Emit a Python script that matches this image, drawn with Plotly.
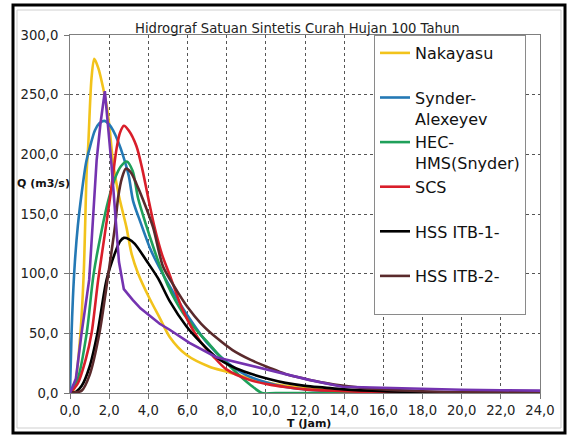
import plotly.graph_objects as go

# ---------------- data ----------------
TITLE = "Hidrograf Satuan Sintetis Curah Hujan 100 Tahun"
X_TITLE = "T (Jam)"
Y_TITLE = "Q (m3/s)"

x_tickvals = [0, 2, 4, 6, 8, 10, 12, 14, 16, 18, 20, 22, 24]
x_ticktext = ["0,0", "2,0", "4,0", "6,0", "8,0", "10,0", "12,0", "14,0",
              "16,0", "18,0", "20,0", "22,0", "24,0"]
y_tickvals = [0, 50, 100, 150, 200, 250, 300]
y_ticktext = ["0,0", "50,0", "100,0", "150,0", "200,0", "250,0", "300,0"]

nakayasu_t = [0, 0.2, 0.5, 0.7, 0.85, 0.93, 1.1, 1.24, 1.45, 1.7, 1.9, 2.04, 2.2,
              2.5, 2.88, 3.14, 3.48, 4.07, 4.58, 5.09, 5.94, 7.12, 7.97, 9.0, 10.0,
              11.0, 12.0, 14.0, 16.0, 20.0, 24.0]
nakayasu_q = [0, 3, 43, 100, 185, 207, 264, 280, 272, 255, 238, 219, 193,
              165, 139, 117, 100, 79, 63, 47, 32, 22, 18, 13, 9,
              6, 4, 2, 1, 0.3, 0.1]

snyder_t = [0, 0.08, 0.15, 0.25, 0.4, 0.6, 0.82, 1.0, 1.27, 1.5, 1.75, 2.0, 2.2,
            2.45, 2.71, 3.0, 3.22, 3.6, 4.07, 4.41, 5.0, 5.5, 6.0, 7.0, 8.0, 9.0,
            10.0, 11.0, 12.0, 14.0, 16.0, 20.0, 24.0]
snyder_q = [0, 50, 80, 110, 140, 168, 193, 205, 220, 226, 228, 225, 220,
            211, 199, 182, 161, 143, 122, 110, 92, 78, 65, 42, 26, 15,
            9, 5, 3, 1, 0.3, 0, 0]

hec_t = [0, 0.4, 0.85, 1.2, 1.6, 1.95, 2.3, 2.6, 2.9, 3.2, 3.48, 3.9, 4.24, 4.58,
         5.0, 5.4, 5.77, 6.0, 6.6, 7.0, 7.7, 8.5, 9.2, 9.8, 10.5, 24.0]
hec_q = [0, 12, 50, 99, 135, 161, 180, 190, 194, 186, 163, 140, 123, 107,
         90, 77, 67, 62, 50, 43, 30, 17, 7, 0, 0, 0]

scs_t = [0, 0.4, 0.8, 1.1, 1.44, 1.75, 2.04, 2.38, 2.55, 2.75, 3.0, 3.39, 3.7, 4.0,
         4.33, 4.7, 5.09, 5.77, 6.62, 7.3, 7.97, 9.16, 10.2, 11.0, 12.0, 14.0,
         16.0, 20.0, 24.0]
scs_q = [0, 8, 28, 50, 95, 130, 163, 205, 218, 224, 220, 207, 187, 163,
         138, 116, 99, 69, 44, 31, 20, 11, 7, 5, 3, 1.5,
         0.5, 0.1, 0]

itb1_t = [0, 0.3, 0.6, 1.0, 1.4, 1.87, 2.29, 2.55, 2.75, 3.0, 3.31, 3.9, 4.5, 5.09,
          5.94, 6.7, 7.47, 8.3, 9.16, 10.2, 11.0, 12.0, 13.0, 14.0, 16.0, 18.0,
          20.0, 24.0]
itb1_q = [0, 1, 6, 22, 50, 95, 117, 127, 130, 129, 125, 111, 96, 77,
          56, 42, 30, 22, 16.5, 11.5, 8.5, 6, 4.5, 3, 1.5, 0.8,
          0.5, 0.2]

itb2_t = [0, 0.6, 1.0, 1.5, 1.95, 2.3, 2.46, 2.65, 2.85, 3.1, 3.4, 3.73, 4.24,
          4.75, 5.3, 6.0, 6.7, 7.5, 8.3, 9.2, 10.2, 11.0, 12.0, 13.0, 14.0, 16.0,
          18.0, 20.0, 24.0]
itb2_q = [0, 2, 15, 50, 99, 140, 164, 180, 188, 185, 175, 162, 139,
          106, 90, 72, 58, 46, 36, 28, 21, 16, 12, 8.5, 6, 3,
          1.5, 0.8, 0.3]

extra_t = [0, 0.3, 0.59, 0.98, 1.19, 1.36, 1.55, 1.78, 2.1, 2.5, 2.75, 3.2, 3.6,
           4.07, 4.58, 5.09, 6.1, 7.47, 9.16, 10.2, 12.2, 13.9, 16.4, 18.0, 20.0,
           22.0, 24.0]
extra_q = [0, 12, 50, 95, 150, 195, 225, 253, 195, 110, 87, 78, 71,
           65, 58, 53, 42, 30, 23, 19, 11, 5.3, 4, 3.2, 2.7,
           2.3, 2]

legend_names = ["Nakayasu", "Synder-<br>Alexeyev", "HEC-<br>HMS(Snyder)", "SCS",
                "HSS ITB-1-", "HSS ITB-2-"]

# ---------------- figure ----------------
colors = ["#F2C31B", "#2479B5", "#1FA05A", "#D91E2A", "#000000", "#5A2A2C"]
series = [(nakayasu_t, nakayasu_q), (snyder_t, snyder_q), (hec_t, hec_q),
          (scs_t, scs_q), (itb1_t, itb1_q), (itb2_t, itb2_q)]

fig = go.Figure()
for (t, q), name, c in zip(series, legend_names, colors):
    label = name if "<br>" in name else name + "<br>\u00a0"
    fig.add_trace(go.Scatter(x=t, y=q, mode="lines", name=label,
                             line=dict(color=c, width=2.6, shape="spline", smoothing=0.8)))
fig.add_trace(go.Scatter(x=extra_t, y=extra_q, mode="lines", showlegend=False,
                         line=dict(color="#7433B0", width=2.6)))

L, R, T, B = 70, 35, 35, 47
W, H = 575 - L - R, 440 - T - B


def px(xp):
    return (xp - L) / W


def py(yp):
    return (440 - B - yp) / H


axis_font = dict(family="DejaVu Sans", size=13.2, color="#222")
fig.update_layout(
    width=575, height=440,
    margin=dict(l=L, r=R, t=T, b=B),
    paper_bgcolor="white", plot_bgcolor="white",
    showlegend=True,
    legend=dict(x=px(374), y=py(35), xanchor="left", yanchor="top",
                font=dict(family="DejaVu Sans", size=16, color="#111"),
                bgcolor="white", bordercolor="#8a8a8a", borderwidth=1,
                valign="top", tracegroupgap=0),
    xaxis=dict(range=[0, 24], tickvals=x_tickvals, ticktext=x_ticktext,
               showgrid=True, gridcolor="#555", griddash="dot", gridwidth=1,
               showline=True, linecolor="#7f7f7f", linewidth=1, mirror=True,
               ticks="outside", ticklen=5, tickcolor="#777",
               tickfont=axis_font, zeroline=False, fixedrange=True),
    yaxis=dict(range=[0, 300], tickvals=y_tickvals, ticktext=y_ticktext,
               showgrid=True, gridcolor="#555", griddash="dot", gridwidth=1,
               showline=True, linecolor="#7f7f7f", linewidth=1, mirror=True,
               ticks="outside", ticklen=5, tickcolor="#777", ticklabelstandoff=3,
               tickfont=axis_font, zeroline=False, fixedrange=True),
    annotations=[
        dict(text=TITLE, xref="paper", yref="paper", x=px(297), y=py(28),
             xanchor="center", yanchor="middle", showarrow=False,
             font=dict(family="DejaVu Sans", size=13.2, color="#222")),
        dict(text="<b>" + Y_TITLE + "</b>", xref="paper", yref="paper",
             x=px(15), y=py(183), xanchor="left", yanchor="middle", showarrow=False,
             font=dict(family="DejaVu Sans", size=11, color="#111")),
        dict(text="<b>" + X_TITLE + "</b>", xref="paper", yref="paper",
             x=px(309), y=py(423), xanchor="center", yanchor="middle", showarrow=False,
             font=dict(family="DejaVu Sans", size=11, color="#111")),
    ],
    shapes=[
        dict(type="rect", xref="paper", yref="paper", layer="below",
             x0=px(17), x1=px(561), y0=py(428), y1=py(10),
             line=dict(color="#cfcfcf", width=1)),
        dict(type="rect", xref="paper", yref="paper",
             x0=px(13), x1=px(565), y0=py(433), y1=py(5),
             line=dict(color="#000000", width=3)),
    ],
)

fig.write_html("out.html", config={"displayModeBar": False},
               post_script="document.body.style.margin='0';document.body.style.padding='0';")
